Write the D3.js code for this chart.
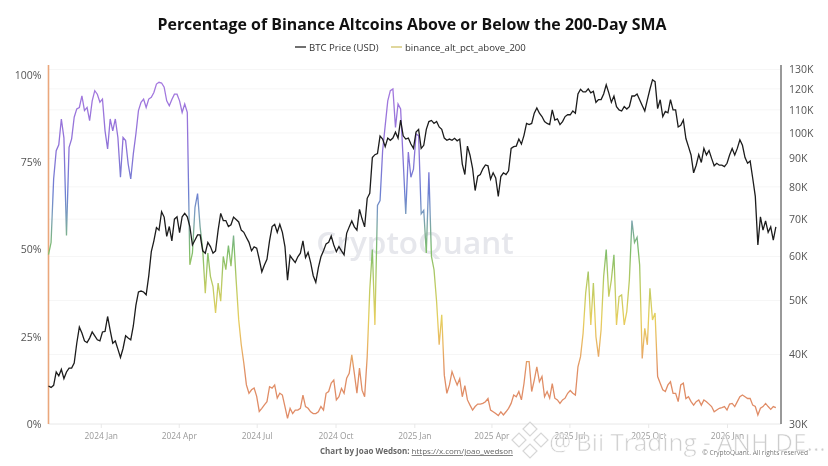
<!DOCTYPE html>
<html>
<head>
<meta charset="utf-8">
<script src="https://cdn.jsdelivr.net/npm/d3@7"></script>
<style>
  html, body { margin: 0; padding: 0; background: #fff; }
  text { font-family: "Open Sans", "Noto Sans", sans-serif; }
</style>
</head>
<body>
<script>
var w = 828;
var h = 466;

// one reading every 3 days, starting at startDate
var startDate = "2023-11-01";
var stepDays = 3;

// BTC price, thousands of USD
var btcPrice = [
  35.1,34.9,35.2,37.2,36.6,37.6,36.2,37.2,37.8,37.8,38.6,41.9,44.8,43.7,42.3,42,42.8,43.9,43.2,42.5,
  42.3,43.9,44,46.8,44.2,41.9,42.3,40.9,39.5,41,43.2,42.8,42.5,45,49,51.8,52,51.8,51.2,55.3,
  61.2,64,67.6,66.9,72.2,70.6,65.2,67.9,64,70,70.7,66.2,70.7,71.7,70.7,67.9,62.9,64.2,65.6,65.6,
  61.4,60.8,63.6,62.5,60.8,61.4,66.9,71.7,69.6,69.6,67.9,68.4,70.6,69.9,69.2,66.9,66.3,64.9,63.6,61.4,
  62.4,62.1,59.3,56.3,57.9,59.3,64,67.9,68.5,66.3,68.5,66.3,62.5,54.4,60.2,59.3,58.5,59.9,60.8,64,
  59.7,61,58.5,55.4,53.9,57.3,59.9,61.4,63.2,63.6,65.3,62.9,61.2,62.5,61.4,60.4,66,67.8,69.5,67.8,
  66.9,72.9,70.1,67.8,76.3,77.9,90.3,91.4,91.8,98.7,97.5,94.5,97.9,97,97.9,100.3,97.9,105.5,98.8,97.5,
  97.9,95.5,93.8,100.4,101.5,93.8,95,101.5,104.8,105.3,104,104.8,102.5,101.5,97.9,97,97.5,97,97.8,96.8,
  97.5,87.9,84.2,94.7,91.2,86.4,78.8,83.6,84.2,86.2,87.6,87.3,82.6,84.8,83,76.9,83.5,84.8,84.2,85.5,
  93.8,94.5,94.7,97.5,95.5,99,104,103.5,104,108.5,110.9,108.5,107,104.8,104,103.5,110,105.5,106,103.5,
  104.8,107,107.8,107.8,109.5,108.5,117.5,119.8,118.5,118.5,120,118,118.8,113.5,114.8,114.8,117.5,122,118,113.5,
  116.5,111.5,110,109.5,111.5,110.4,111.5,116.5,116.5,117.5,114.7,112,109.5,114.7,119.8,124.6,123.6,110.6,114.7,107,
  109.3,108.7,114.8,110,110,102.5,103.2,105.5,97.7,94.5,91.3,84.8,87.5,91.4,88.5,93.8,91.3,93,90,87.3,
  88.2,87.5,87.5,87,88.2,91.3,93.8,91.3,93.8,97.2,95,90.3,88.2,89,82.9,76.9,62.9,70.7,66.9,69.5,
  66.3,67.8,64.2,67.8
];

// share of Binance altcoins above the 200-day SMA, percent
var altPct = [
  48.5,52,70.2,78.3,80,87.4,82,54,79.3,81.7,87.9,90.3,90.7,94,89.8,90.7,86.9,92.6,95.5,94.5,
  92.2,93.1,84,78.8,87.4,84,87.4,82.1,70.7,82.1,81.2,74.5,70.2,77.4,83.1,89.8,92.2,93.1,90.7,93.1,
  93.6,95,97.4,97.9,97.7,96.5,92.6,91.2,93,94.5,94.5,92.6,89.3,91.7,89.3,45.6,49,62.1,66,56.4,
  50,37.5,49,42.3,39.4,31.8,40.4,35.2,48,44.2,51.1,45.2,54,41.3,29.9,22.7,17.4,11.2,8.8,9.8,
  10.3,7.9,3.6,4.5,5.5,6.4,10.7,10.3,11.2,7.4,8.8,8.3,5,1.6,4.5,3,4,4,4.5,8.3,
  5,4.5,3.5,3,3,3.5,5,4,8.8,9.3,11.7,12.6,6.9,7.8,10.2,8.8,13.1,14.5,19.8,14.5,
  8.8,16,9.7,7.8,19.3,38.5,50,28.4,62.6,64,78.3,85.5,92.6,95.5,96,85,91.7,90.3,75.5,60.2,
  77.9,70.7,73,83.1,82.6,60.2,61.2,49,72.1,48,44.2,35.1,22.7,31.3,14,8.8,11.2,15,13,11.2,
  13,7.8,11,6.9,5.4,4,5,5.7,5.7,5.9,6.4,7.3,4,3.5,3,2.4,3.5,2.6,3.5,4.5,
  5.9,8.3,7.8,9.3,6.9,11.6,17.9,17.9,9.3,12.6,16.4,12.1,13.6,7.8,9.3,7.4,11.6,7.4,6.9,5.9,
  6.9,7.4,8.8,9.6,8.8,8.3,16.4,19.3,26,37.5,43.7,28.4,40.4,25,19.3,27,42.3,50,36.5,41.3,
  48.5,28.4,36.5,37,28.4,32.2,41.3,58.3,52,53.5,45.6,18.8,27.4,22.7,38.9,29.8,31.8,13.6,11.7,9.8,
  9.3,11.2,12.1,8.8,8.8,6.4,11.2,11.7,7.3,7.8,6.4,5.4,6.4,6.9,5.4,6.9,6.4,5.7,5,3.5,
  4,4.5,4.7,5,4,5.7,5.9,5,6.4,7.8,8.3,7.8,7.3,7.3,5.4,5,2.6,4.5,5,5.9,
  5,4.2,5,4.7
];

var xTickLabels = ["2024 Jan","2024 Apr","2024 Jul","2024 Oct","2025 Jan","2025 Apr","2025 Jul","2025 Oct","2026 Jan"];
var pctTicks = [0, 25, 50, 75, 100];
var priceTicks = [30, 40, 50, 60, 70, 80, 90, 100, 110, 120, 130];

// colour of the alt line by its percent value
var pctStops = [0, 15, 22, 30, 40, 50, 60, 66, 80, 100];
var pctColors = ["#e08a66","#e08f66","#e9b464","#e6cf5f","#bccb62","#7dbd6c","#7b9dbd","#6d80d2","#8f72d8","#a97ae0"];

var parseDay = d3.utcParse("%Y-%m-%d");
var parseTick = d3.utcParse("%Y %b");
var day0 = parseDay(startDate);
function dateAt(i) { return d3.utcDay.offset(day0, i * stepDays); }

var left = 48.5, right = 781, bottom = 424, axisTop = 65;

var x = d3.scaleUtc()
  .domain([day0, parseDay("2026-03-05")])
  .range([left, right]);
var yPct = d3.scaleLinear().domain([0, 100]).range([bottom, 75]);
var yPrice = d3.scaleLog().domain([30, 130]).range([bottom, 69.5]);

var svg = d3.select("body").append("svg")
  .attr("width", w)
  .attr("height", h)
  .style("display", "block")
  .style("filter", "blur(0.3px)");

// title
svg.append("text")
  .attr("x", 412).attr("y", 29.5)
  .attr("text-anchor", "middle")
  .style("font-size", "15.9px").style("font-weight", 700).style("fill", "#111")
  .text("Percentage of Binance Altcoins Above or Below the 200-Day SMA");

// legend
svg.append("line").attr("x1", 295).attr("x2", 306).attr("y1", 47).attr("y2", 47)
  .style("stroke", "#222").style("stroke-width", 1.3);
svg.append("text").attr("x", 309).attr("y", 50.5)
  .style("font-size", "9.6px").style("fill", "#333").text("BTC Price (USD)");
svg.append("line").attr("x1", 391).attr("x2", 402).attr("y1", 47).attr("y2", 47)
  .style("stroke", "#cfc268").style("stroke-width", 1.3);
svg.append("text").attr("x", 405).attr("y", 50.5)
  .style("font-size", "9.6px").style("fill", "#333").text("binance_alt_pct_above_200");

// grid from the price axis
svg.append("g").selectAll("line")
  .data(priceTicks.slice(1))
  .enter().append("line")
  .attr("x1", left).attr("x2", right)
  .attr("y1", function(d) { return yPrice(d); })
  .attr("y2", function(d) { return yPrice(d); })
  .style("stroke", "#f6f6f6").style("stroke-width", 1);

// CryptoQuant watermark
svg.append("text")
  .attr("x", 415).attr("y", 254)
  .attr("text-anchor", "middle")
  .style("font-size", "31.5px").style("font-weight", 600).style("fill", "#e6e7ec")
  .text("CryptoQuant");

// x axis
var xAxis = d3.axisBottom(x)
  .tickValues(xTickLabels.map(function(d) { return parseTick(d); }))
  .tickFormat(d3.utcFormat("%Y %b"))
  .tickSize(4).tickPadding(5);
var gx = svg.append("g").attr("transform", "translate(0," + bottom + ")").call(xAxis);
gx.select(".domain").attr("d", "M" + left + ",0H" + right).style("stroke", "#e8e8e8");
gx.selectAll(".tick line").style("stroke", "#e8e8e8");
gx.selectAll("text").style("font-size", "8.4px").style("fill", "#999")
  .style("font-family", '"Open Sans", sans-serif');

// left axis
var gl = svg.append("g").attr("transform", "translate(" + left + ",0)")
  .call(d3.axisLeft(yPct).tickValues(pctTicks).tickFormat(function(d) { return d + "%"; }).tickSize(0).tickPadding(7));
gl.select(".domain").attr("d", "M0," + axisTop + "V" + bottom).style("stroke", "#eaa77c").style("stroke-width", 1.6);
gl.selectAll("text").style("font-size", "10.5px").style("fill", "#555")
  .style("font-family", '"Open Sans", sans-serif');

// right axis
var gr = svg.append("g").attr("transform", "translate(" + right + ",0)")
  .call(d3.axisRight(yPrice).tickValues(priceTicks).tickFormat(function(d) { return d + "K"; }).tickSize(0).tickPadding(8));
gr.select(".domain").attr("d", "M0," + axisTop + "V" + bottom).style("stroke", "#777").style("stroke-width", 1.5);
gr.selectAll("text").style("font-size", "10.5px").style("fill", "#555")
  .style("font-family", '"Open Sans", sans-serif');

// alt line, coloured by value
var grad = svg.append("defs").append("linearGradient")
  .attr("id", "pctGrad")
  .attr("gradientUnits", "userSpaceOnUse")
  .attr("x1", 0).attr("x2", 0)
  .attr("y1", yPct(0)).attr("y2", yPct(100));
grad.selectAll("stop")
  .data(pctStops)
  .enter().append("stop")
  .attr("offset", function(d) { return d + "%"; })
  .attr("stop-color", function(d, i) { return pctColors[i]; });

var pctLine = d3.line()
  .x(function(d, i) { return x(dateAt(i)); })
  .y(function(d) { return yPct(d); });
svg.append("path").datum(altPct)
  .attr("d", pctLine)
  .style("fill", "none")
  .style("stroke", "url(#pctGrad)")
  .style("stroke-width", 1.3);

// BTC line
var btcLine = d3.line()
  .x(function(d, i) { return x(dateAt(i)); })
  .y(function(d) { return yPrice(d); });
svg.append("path").datum(btcPrice)
  .attr("d", btcLine)
  .style("fill", "none")
  .style("stroke", "#1c1c1c")
  .style("stroke-width", 1.3);

// footer
var credit = svg.append("text").attr("x", 320).attr("y", 454)
  .style("font-size", "8px").style("fill", "#666");
credit.append("tspan").style("font-weight", 700).text("Chart by Joao Wedson: ");
credit.append("tspan").style("text-decoration", "underline").text("https://x.com/joao_wedson");
svg.append("text").attr("x", 808).attr("y", 455)
  .attr("text-anchor", "end")
  .style("font-size", "6.6px").style("fill", "#777")
  .text("© CryptoQuant. All rights reserved");

// reposter's stamp over the bottom right
var stamp = svg.append("g").style("opacity", 0.75);
[[530, 429], [519, 440], [541, 440], [530, 451]].forEach(function(p) {
  stamp.append("path")
    .attr("d", "M" + (p[0] - 7) + "," + p[1] + "l7,-7l7,7l-7,7z")
    .style("fill", "#fff").style("stroke", "#c9c9c9").style("stroke-width", 1.2);
});
stamp.append("text").attr("x", 549).attr("y", 451)
  .style("font-size", "25px").style("fill", "#bdbdbd").style("stroke", "#fff").style("stroke-width", 0.6)
  .text("@");
stamp.append("text").attr("x", 576).attr("y", 450.5)
  .style("font-size", "24.4px").style("fill", "#bdbdbd").style("stroke", "#fff").style("stroke-width", 0.6)
  .text("Bii Trading - ANH DE...");
</script>
</body>
</html>
